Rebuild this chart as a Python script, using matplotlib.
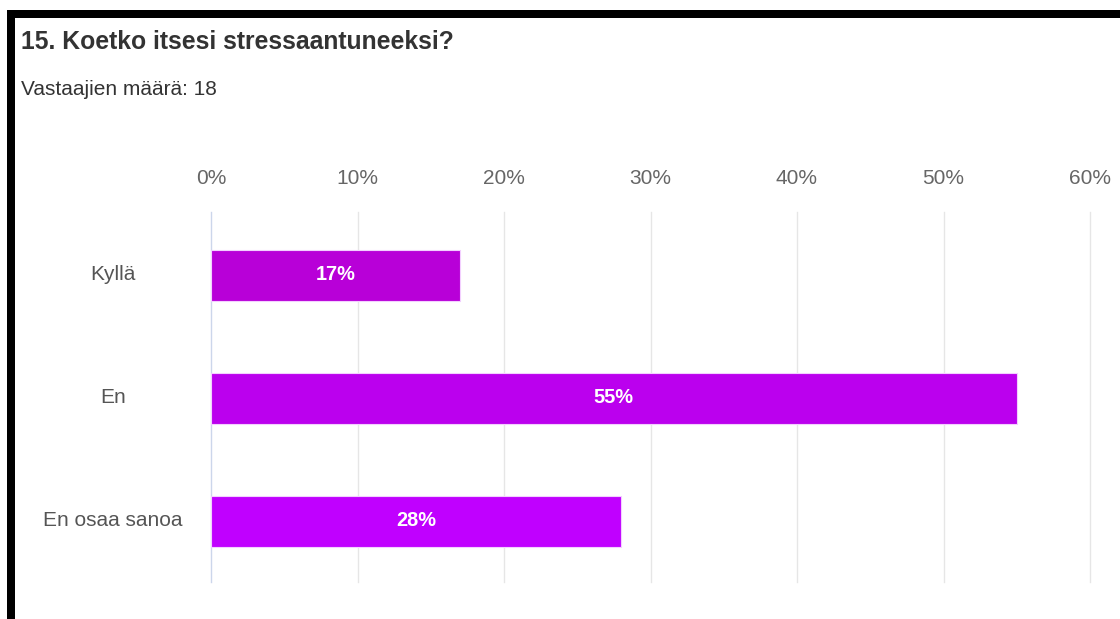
import matplotlib
matplotlib.use("Agg")
import matplotlib.pyplot as plt
from matplotlib.patches import Rectangle
from matplotlib.transforms import ScaledTranslation

categories = ["Kyllä", "En", "En osaa sanoa"]
values = [17, 55, 28]
value_labels = ["17%", "55%", "28%"]
bar_colors = ["#b800d8", "#bb00ee", "#c000ff"]
xticks = [0, 10, 20, 30, 40, 50, 60]
xtick_labels = ["0%", "10%", "20%", "30%", "40%", "50%", "60%"]
title = "15. Koetko itsesi stressaantuneeksi?"
subtitle = "Vastaajien määrä: 18"

plt.rcParams['font.family'] = ['Liberation Sans', 'DejaVu Sans']

W, H = 1120, 619
fig = plt.figure(figsize=(W / 100, H / 100), dpi=100)
fig.patch.set_facecolor("white")

# black frame (top and left)
fig.add_artist(Rectangle((7 / W, 0), 8 / W, (H - 10) / H, transform=fig.transFigure,
                         facecolor="black", edgecolor="none"))
fig.add_artist(Rectangle((7 / W, (H - 18) / H), (W - 7) / W, 8 / H, transform=fig.transFigure,
                         facecolor="black", edgecolor="none"))

fig.text(21 / W, 1 - 49 / H, title, fontsize=17.8, fontweight="bold", color="#333333",
         ha="left", va="baseline")
fig.text(21 / W, 1 - 95 / H, subtitle, fontsize=15, color="#333333", ha="left", va="baseline")

left, right, top, bottom = 211, 1090, 212, 582
ax = fig.add_axes([left / W, 1 - bottom / H, (right - left) / W, (bottom - top) / H])

y = list(range(len(categories)))
ax.barh(y, values, height=0.415, color=bar_colors, edgecolor="#f3d0ff", linewidth=0.8, zorder=3)
for yi, v, lab in zip(y, values, value_labels):
    ax.text(v / 2, yi - 0.01, lab, ha="center", va="center", color="white", fontsize=14.4,
            fontweight="bold", zorder=4)

ax.set_xlim(0, 60)
ax.set_ylim(2.492, -0.516)
ax.set_xticks(xticks)
ax.set_xticklabels(xtick_labels)
ax.xaxis.tick_top()
ax.tick_params(axis="x", length=0, pad=17.5, labelsize=15, labelcolor="#666666")
ax.set_yticks(y)
ax.set_yticklabels(categories)
ax.tick_params(axis="y", length=0, pad=70.5, labelsize=15, labelcolor="#555555")
shift = ScaledTranslation(0, 3 / 100, fig.dpi_scale_trans)
for t in ax.get_yticklabels():
    t.set_ha("center")
    t.set_transform(t.get_transform() + shift)

for s in ["top", "right", "bottom"]:
    ax.spines[s].set_visible(False)
ax.spines["left"].set_color("#ccd6eb")
ax.spines["left"].set_linewidth(1)
for xv in xticks[1:]:
    ax.axvline(xv, color="#e6e6e6", linewidth=1, zorder=1, clip_on=False)
ax.set_facecolor("white")

fig.savefig("out.png", dpi=100, facecolor="white")
